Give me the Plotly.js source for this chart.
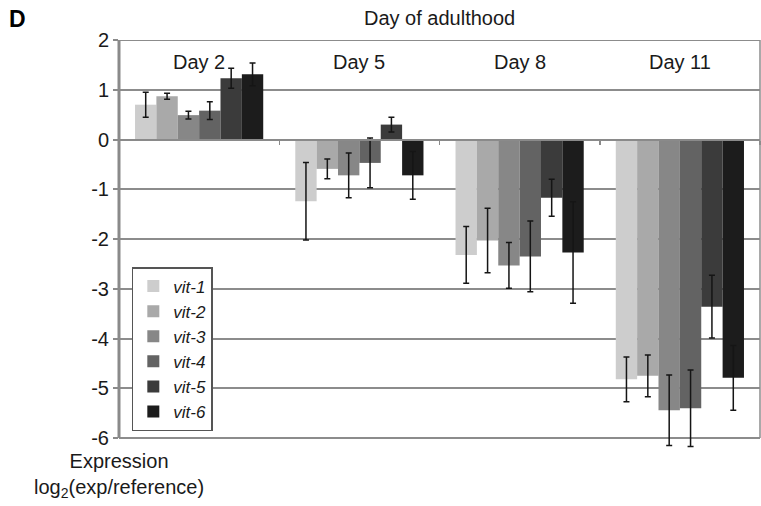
<!DOCTYPE html>
<html>
<head>
<meta charset="utf-8">
<script src="https://cdn.plot.ly/plotly-3.0.1.min.js"></script>
<style>
  html, body { margin: 0; padding: 0; background: #fff; }
  #chart { width: 761px; height: 506px; }
</style>
</head>
<body>
<div id="chart"></div>
<script>
// ---- data ----
const days = ['Day 2', 'Day 5', 'Day 8', 'Day 11'];
const seriesNames = ['vit-1', 'vit-2', 'vit-3', 'vit-4', 'vit-5', 'vit-6'];
const vit1 = [0.70, -1.24, -2.32, -4.82];
const vit2 = [0.87, -0.59, -2.03, -4.75];
const vit3 = [0.49, -0.72, -2.53, -5.44];
const vit4 = [0.58, -0.47, -2.35, -5.40];
const vit5 = [1.23, 0.30, -1.17, -3.36];
const vit6 = [1.31, -0.72, -2.27, -4.79];
const err1 = [0.25, 0.78, 0.57, 0.45];
const err2 = [0.06, 0.20, 0.65, 0.42];
const err3 = [0.08, 0.45, 0.46, 0.71];
const err4 = [0.18, 0.50, 0.71, 0.77];
const err5 = [0.20, 0.15, 0.37, 0.63];
const err6 = [0.23, 0.48, 1.02, 0.65];
const yTicks = [-6, -5, -4, -3, -2, -1, 0, 1, 2];

// ---- styles ----
const colors = ['#cdcdcd', '#a9a9a9', '#878787', '#636363', '#3b3b3b', '#1c1c1c'];
const values = [vit1, vit2, vit3, vit4, vit5, vit6];
const errors = [err1, err2, err3, err4, err5, err6];
const FONT = 'Liberation Sans, Arial, sans-serif';
const yMin = yTicks[0], yMax = yTicks[yTicks.length - 1];
const yPad = 0.3;               // room so error bars below the last tick are not clipped
const plotTop = 40, plotBottom = 453, H = 506;
const py = px => (plotBottom - px) / (plotBottom - plotTop);   // pixel row -> paper y

const traces = seriesNames.map((name, i) => ({
  type: 'bar',
  name: '<i>' + name + '</i>',
  x: days,
  y: values[i],
  marker: { color: colors[i], line: { width: 0 } },
  error_y: { type: 'data', array: errors[i], visible: true, color: '#151515', thickness: 1.5, width: 3 }
}));

const annotations = days.map(d => ({
  x: d, y: 1.55, xref: 'x', yref: 'y', text: d, showarrow: false,
  font: { family: FONT, size: 20, color: '#1a1a1a' }
}));
annotations.push({
  x: 0.5, y: py(18), xref: 'paper', yref: 'paper', text: 'Day of adulthood', showarrow: false,
  yanchor: 'middle', font: { family: FONT, size: 20, color: '#1a1a1a' }
});
annotations.push({
  x: (17.5 - 119) / 641, y: py(19), xref: 'paper', yref: 'paper', text: '<b>D</b>', showarrow: false,
  xanchor: 'center', yanchor: 'middle', font: { family: FONT, size: 23, color: '#000' }
});
annotations.push({
  x: 0, y: py(448), xref: 'paper', yref: 'paper',
  text: 'Expression<br>log<sub>2</sub>(exp/reference)', showarrow: false,
  xanchor: 'center', yanchor: 'top', align: 'center',
  font: { family: FONT, size: 20, color: '#1a1a1a' }
});

const layout = {
  width: 761, height: H,
  margin: { l: 119, r: 1, t: plotTop, b: H - plotBottom },
  paper_bgcolor: '#fff', plot_bgcolor: '#fff',
  barmode: 'group', bargap: 0.2, bargroupgap: 0,
  showlegend: true,
  legend: {
    x: 0.02, y: py(267), xanchor: 'left', yanchor: 'top',
    bgcolor: '#fff', bordercolor: '#555', borderwidth: 1.5,
    font: { family: FONT, size: 17, color: '#1a1a1a' },
    tracegroupgap: 0, itemwidth: 30
  },
  xaxis: {
    type: 'category', range: [-0.5, 3.5],
    anchor: 'free', position: (0 - (yMin - yPad)) / (yMax - (yMin - yPad)),
    showticklabels: false, showgrid: false, zeroline: false,
    showline: true, linecolor: '#8a8a8a', linewidth: 2,
    ticks: 'outside', tickson: 'boundaries', ticklen: 4, tickcolor: '#8a8a8a', tickwidth: 1.5
  },
  yaxis: {
    range: [yMin - yPad, yMax], tickvals: yTicks, ticktext: yTicks.map(String),
    showgrid: true, gridcolor: '#8c8c8c', gridwidth: 2,
    zeroline: false, showline: false,
    ticks: 'outside', ticklen: 5, tickcolor: '#8a8a8a', tickwidth: 2,
    tickfont: { family: FONT, size: 20, color: '#1a1a1a' }
  },
  shapes: [
    // y axis line (from -6 to 2)
    { type: 'line', xref: 'paper', yref: 'y', x0: 0, x1: 0, y0: yMin, y1: yMax, line: { color: '#8a8a8a', width: 3 } },
    // frame top and right
    { type: 'line', xref: 'paper', yref: 'y', x0: 0, x1: 1, y0: yMax, y1: yMax, line: { color: '#8c8c8c', width: 2 } },
    { type: 'line', xref: 'paper', yref: 'y', x0: 1, x1: 1, y0: yMin, y1: yMax, line: { color: '#8c8c8c', width: 1.5 } }
  ],
  annotations: annotations
};

Plotly.newPlot('chart', traces, layout, { displayModeBar: false, staticPlot: true });
</script>
</body>
</html>
